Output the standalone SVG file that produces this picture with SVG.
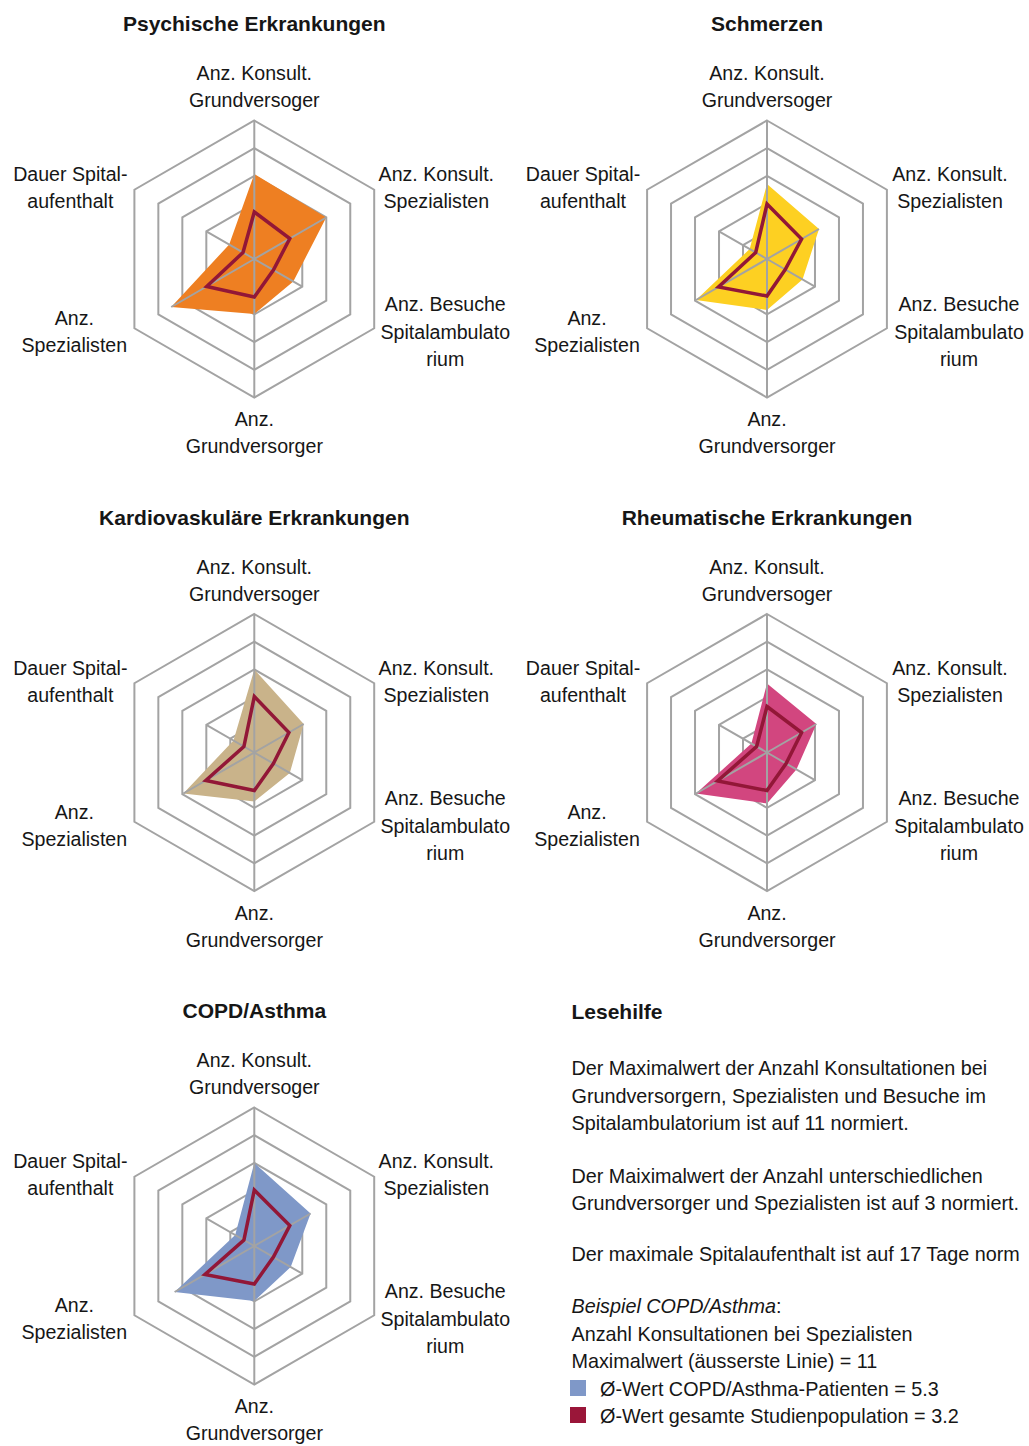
<svg xmlns="http://www.w3.org/2000/svg" xmlns:xlink="http://www.w3.org/1999/xlink" width="1029" height="1446" viewBox="0 0 1029 1446">
<style>
  .ring{fill:none;stroke:#a3a3a3;stroke-width:2}
  .spoke{stroke:#a3a3a3;stroke-width:2;fill:none}
  .avg{fill:none;stroke:#921737;stroke-width:3.5;stroke-linejoin:miter}
  .lbl{font-family:"Liberation Sans",Arial,sans-serif;font-size:19.6px;fill:#161616;text-anchor:middle}
  .ttl{font-family:"Liberation Sans",Arial,sans-serif;font-size:21px;font-weight:bold;fill:#161616;text-anchor:middle}
  .txt{font-family:"Liberation Sans",Arial,sans-serif;font-size:19.8px;fill:#161616}
  .hd{font-family:"Liberation Sans",Arial,sans-serif;font-size:21px;font-weight:bold;fill:#161616}
  .f1{fill:#ee7f22}.f2{fill:#fdd022}.f3{fill:#c9b38a}.f4{fill:#d2467f}.f5{fill:#7f98c8}
</style>
<defs>
  <g id="rings">
    <polygon class="ring" points="0,-138.5 119.9,-69.25 119.9,69.25 0,138.5 -119.9,69.25 -119.9,-69.25"/>
    <polygon class="ring" points="0,-110.8 95.96,-55.4 95.96,55.4 0,110.8 -95.96,55.4 -95.96,-55.4"/>
    <polygon class="ring" points="0,-83.1 71.97,-41.55 71.97,41.55 0,83.1 -71.97,41.55 -71.97,-41.55"/>
    <polygon class="ring" points="0,-55.4 47.98,-27.7 47.98,27.7 0,55.4 -47.98,27.7 -47.98,-27.7"/>
    <polygon class="ring" points="0,-27.7 23.99,-13.85 23.99,13.85 0,27.7 -23.99,13.85 -23.99,-13.85"/>
  </g>
</defs>

<g id="chart-psychische" transform="translate(254.3,259)">
  <text class="ttl" x="0" y="-228">Psychische Erkrankungen</text>
  <use xlink:href="#rings" href="#rings"/>
  <polygon class="f1" points="0,-85 71.9,-41.5 39,22.5 0,55 -83.1,48 -25.1,-14.5"/>
  <path class="spoke" d="M0,-138.5V138.5M0,0L71.9,-41.5M0,0L47.98,27.7M0,0L-83.1,48M0,0L-47.98,-27.7"/>
  <polygon class="avg" points="0,-47 35.5,-20.5 19.1,11 0,38 -47.6,27.5 -11.3,-6.5"/>
  <text class="lbl" x="0" y="-179">Anz. Konsult.</text>
  <text class="lbl" x="0" y="-152">Grundversoger</text>
  <text class="lbl" x="182" y="-78">Anz. Konsult.</text>
  <text class="lbl" x="182" y="-51">Spezialisten</text>
  <text class="lbl" x="191" y="52">Anz. Besuche</text>
  <text class="lbl" x="191" y="80">Spitalambulato</text>
  <text class="lbl" x="191" y="107">rium</text>
  <text class="lbl" x="0" y="167">Anz.</text>
  <text class="lbl" x="0" y="194">Grundversorger</text>
  <text class="lbl" x="-180" y="66">Anz.</text>
  <text class="lbl" x="-180" y="93">Spezialisten</text>
  <text class="lbl" x="-184" y="-78">Dauer Spital-</text>
  <text class="lbl" x="-184" y="-51">aufenthalt</text>
</g>

<g id="chart-schmerzen" transform="translate(767,259)">
  <text class="ttl" x="0" y="-228">Schmerzen</text>
  <use xlink:href="#rings" href="#rings"/>
  <polygon class="f2" points="0,-75 52,-30 35.5,20.5 0,51 -71,41 -17.3,-10"/>
  <path class="spoke" d="M0,-138.5V138.5M0,0L52,-30M0,0L47.98,27.7M0,0L-71,41M0,0L-47.98,-27.7"/>
  <polygon class="avg" points="0,-55 34.6,-20 18.2,10.5 0,37 -48.5,28 -11.3,-6.5"/>
  <text class="lbl" x="0" y="-179">Anz. Konsult.</text>
  <text class="lbl" x="0" y="-152">Grundversoger</text>
  <text class="lbl" x="183" y="-78">Anz. Konsult.</text>
  <text class="lbl" x="183" y="-51">Spezialisten</text>
  <text class="lbl" x="192" y="52">Anz. Besuche</text>
  <text class="lbl" x="192" y="80">Spitalambulato</text>
  <text class="lbl" x="192" y="107">rium</text>
  <text class="lbl" x="0" y="167">Anz.</text>
  <text class="lbl" x="0" y="194">Grundversorger</text>
  <text class="lbl" x="-180" y="66">Anz.</text>
  <text class="lbl" x="-180" y="93">Spezialisten</text>
  <text class="lbl" x="-184" y="-78">Dauer Spital-</text>
  <text class="lbl" x="-184" y="-51">aufenthalt</text>
</g>

<g id="chart-kardiovaskulaer" transform="translate(254.3,752.5)">
  <text class="ttl" x="0" y="-228">Kardiovaskuläre Erkrankungen</text>
  <use xlink:href="#rings" href="#rings"/>
  <polygon class="f3" points="0,-83 49.4,-28.5 35.5,20.5 0,49 -71,41 -20.8,-12"/>
  <path class="spoke" d="M0,-138.5V138.5M0,0L49.4,-28.5M0,0L47.98,27.7M0,0L-71,41M0,0L-47.98,-27.7"/>
  <polygon class="avg" points="0,-56 34.6,-20 19.1,11 0,38 -48.5,28 -10.4,-6"/>
  <text class="lbl" x="0" y="-179">Anz. Konsult.</text>
  <text class="lbl" x="0" y="-152">Grundversoger</text>
  <text class="lbl" x="182" y="-78">Anz. Konsult.</text>
  <text class="lbl" x="182" y="-51">Spezialisten</text>
  <text class="lbl" x="191" y="52">Anz. Besuche</text>
  <text class="lbl" x="191" y="80">Spitalambulato</text>
  <text class="lbl" x="191" y="107">rium</text>
  <text class="lbl" x="0" y="167">Anz.</text>
  <text class="lbl" x="0" y="194">Grundversorger</text>
  <text class="lbl" x="-180" y="66">Anz.</text>
  <text class="lbl" x="-180" y="93">Spezialisten</text>
  <text class="lbl" x="-184" y="-78">Dauer Spital-</text>
  <text class="lbl" x="-184" y="-51">aufenthalt</text>
</g>

<g id="chart-rheumatische" transform="translate(767,752.5)">
  <text class="ttl" x="0" y="-228">Rheumatische Erkrankungen</text>
  <use xlink:href="#rings" href="#rings"/>
  <polygon class="f4" points="0,-69 49.4,-28.5 29.4,17 0,51 -71,41 -15.6,-9"/>
  <path class="spoke" d="M0,-138.5V138.5M0,0L49.4,-28.5M0,0L47.98,27.7M0,0L-71,41M0,0L-47.98,-27.7"/>
  <polygon class="avg" points="0,-46 34.6,-20 19.1,11 0,38 -49.4,28.5 -10.4,-6"/>
  <text class="lbl" x="0" y="-179">Anz. Konsult.</text>
  <text class="lbl" x="0" y="-152">Grundversoger</text>
  <text class="lbl" x="183" y="-78">Anz. Konsult.</text>
  <text class="lbl" x="183" y="-51">Spezialisten</text>
  <text class="lbl" x="192" y="52">Anz. Besuche</text>
  <text class="lbl" x="192" y="80">Spitalambulato</text>
  <text class="lbl" x="192" y="107">rium</text>
  <text class="lbl" x="0" y="167">Anz.</text>
  <text class="lbl" x="0" y="194">Grundversorger</text>
  <text class="lbl" x="-180" y="66">Anz.</text>
  <text class="lbl" x="-180" y="93">Spezialisten</text>
  <text class="lbl" x="-184" y="-78">Dauer Spital-</text>
  <text class="lbl" x="-184" y="-51">aufenthalt</text>
</g>

<g id="chart-copd" transform="translate(254.3,1246)">
  <text class="ttl" x="0" y="-228">COPD/Asthma</text>
  <use xlink:href="#rings" href="#rings"/>
  <polygon class="f5" points="0,-83 56.3,-32.5 36.4,21 0,55 -79.7,46 -19.1,-11"/>
  <path class="spoke" d="M0,-138.5V138.5M0,0L56.3,-32.5M0,0L47.98,27.7M0,0L-79.7,46M0,0L-47.98,-27.7"/>
  <polygon class="avg" points="0,-56 35.5,-20.5 19.1,11 0,38 -49.4,28.5 -10.4,-6"/>
  <text class="lbl" x="0" y="-179">Anz. Konsult.</text>
  <text class="lbl" x="0" y="-152">Grundversoger</text>
  <text class="lbl" x="182" y="-78">Anz. Konsult.</text>
  <text class="lbl" x="182" y="-51">Spezialisten</text>
  <text class="lbl" x="191" y="52">Anz. Besuche</text>
  <text class="lbl" x="191" y="80">Spitalambulato</text>
  <text class="lbl" x="191" y="107">rium</text>
  <text class="lbl" x="0" y="167">Anz.</text>
  <text class="lbl" x="0" y="194">Grundversorger</text>
  <text class="lbl" x="-180" y="66">Anz.</text>
  <text class="lbl" x="-180" y="93">Spezialisten</text>
  <text class="lbl" x="-184" y="-78">Dauer Spital-</text>
  <text class="lbl" x="-184" y="-51">aufenthalt</text>
</g>

<g id="lesehilfe">
  <text class="hd" x="571.5" y="1019">Lesehilfe</text>
  <text class="txt" x="571.5" y="1075">Der Maximalwert der Anzahl Konsultationen bei</text>
  <text class="txt" x="571.5" y="1102.5">Grundversorgern, Spezialisten und Besuche im</text>
  <text class="txt" x="571.5" y="1130">Spitalambulatorium ist auf 11 normiert.</text>
  <text class="txt" x="571.5" y="1182.5">Der Maiximalwert der Anzahl unterschiedlichen</text>
  <text class="txt" x="571.5" y="1209.5">Grundversorger und Spezialisten ist auf 3 normiert.</text>
  <text class="txt" x="571.5" y="1261">Der maximale Spitalaufenthalt ist auf 17 Tage norm</text>
  <text class="txt" x="571.5" y="1313"><tspan font-style="italic">Beispiel COPD/Asthma</tspan>:</text>
  <text class="txt" x="571.5" y="1340.5">Anzahl Konsultationen bei Spezialisten</text>
  <text class="txt" x="571.5" y="1368">Maximalwert (äusserste Linie) = 11</text>
  <rect x="570" y="1380" width="16" height="16" fill="#7f98c8"/>
  <text class="txt" x="600" y="1396">Ø-Wert COPD/Asthma-Patienten = 5.3</text>
  <rect x="570" y="1407" width="16" height="16" fill="#9a1639"/>
  <text class="txt" x="600" y="1423">Ø-Wert gesamte Studienpopulation = 3.2</text>
</g>
</svg>
